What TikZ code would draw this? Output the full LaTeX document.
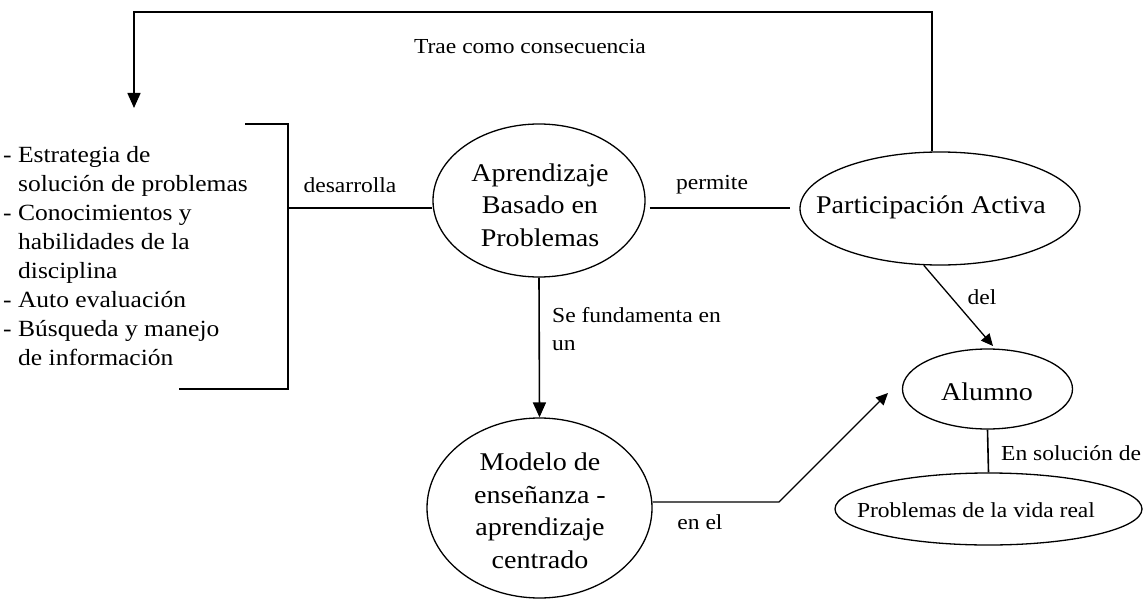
\documentclass[tikz,border=0pt]{standalone}
\usepackage{fontspec}
\setmainfont{Liberation Serif}[FakeStretch=1.1]
\usetikzlibrary{shapes.geometric,arrows.meta}
\tikzset{
  ell/.style={draw, shape=ellipse, line width=1.3pt, inner sep=0pt},
  nodetxt/.style={align=center, inner sep=0pt, font=\fontsize{25.5}{32.5}\selectfont},
  lab/.style={inner sep=0pt, font=\fontsize{21.4}{28}\selectfont},
  conn/.style={line width=1.6pt},
  arr/.style={line width=1.6pt, -{Triangle[length=15pt,width=13pt]}},
  sarr/.style={line width=1.3pt, -{Triangle[length=12pt,width=11pt]}}
}
\begin{document}
\begin{tikzpicture}[x=1pt,y=-1pt]
\useasboundingbox (0,0) rectangle (1143,599);
\fill[white] (0,0) rectangle (1143,599);

% ellipses
\node[ell, minimum width=212pt, minimum height=153pt] (abp) at (539,200.5) {};
\node[nodetxt] (tabp) at (540,205) {Aprendizaje\\Basado en\\Problemas};

\node[ell, minimum width=280pt, minimum height=113pt] (part) at (940,208.5) {};
\node[nodetxt] (tpart) at (931,207) {Participación Activa};

\node[ell, minimum width=225pt, minimum height=180pt] (modelo) at (539.5,508) {};
\node[nodetxt] (tmodelo) at (540,511) {Modelo de\\enseñanza -\\aprendizaje\\centrado};

\node[ell, minimum width=170pt, minimum height=80pt] (alu) at (987.5,389) {};
\node[nodetxt] (talu) at (987,392) {Alumno};

\node[ell, minimum width=307pt, minimum height=72pt] (prob) at (988.5,509) {};
\node[lab] (tprob) at (976,510) {Problemas de la vida real};

% list
\node[inner sep=0pt, align=left, anchor=west,
      font=\fontsize{23.2}{29}\selectfont] (lista) at (3,256)
  {- Estrategia de\\
   \hspace*{15pt}solución de problemas\\
   - Conocimientos y\\
   \hspace*{15pt}habilidades de la\\
   \hspace*{15pt}disciplina\\
   - Auto evaluación\\
   - Búsqueda y manejo\\
   \hspace*{15pt}de información};

% bracket
\coordinate (b1) at (245,124);
\coordinate (b2) at (288,124);
\coordinate (b3) at (288,389);
\coordinate (b4) at (179,389);
\coordinate (bm) at (288,208);
\draw[conn] (b1) -- (b2) -- (b3) -- (b4);
\draw[conn] (bm) -- (abp.west |- bm);
\node[lab] (ldes) at (350,185) {desarrolla};

% permite
\coordinate (pm) at (600,208);
\draw[conn, shorten <=4pt, shorten >=9pt] (abp.east |- pm) -- (part.west |- pm);
\node[lab] (lper) at (712,185) {permite};

% top loop
\coordinate (loopR) at (932,12);
\coordinate (loopL) at (134,12);
\coordinate (listTop) at (134,108);
\draw[arr] (part.north -| loopR) -- (loopR) -- (loopL) -- (listTop);
\node[lab] (ltrae) at (530,47) {Trae como consecuencia};

% ABP -> Modelo
\draw[arr] (abp.south) -- (modelo.north);
\node[lab, align=left, anchor=west] (lfun) at (552,329) {Se fundamenta en\\un};

% Modelo -> Alumno
\coordinate (mA) at (779,502);
\coordinate (aW) at (888,393);
\draw[sarr] (modelo.east |- mA) -- (mA) -- (aW);
\node[lab] (lenel) at (700,522) {en el};

% Participacion -> Alumno
\coordinate (aT) at (993,346);
\draw[sarr] (part.254) -- (aT);
\node[lab] (ldel) at (982,297) {del};

% Alumno -- Problemas
\draw[conn] (alu.south) -- (prob.north);
\node[lab, anchor=west] (lsol) at (1001,453) {En solución de};
\end{tikzpicture}
\end{document}
